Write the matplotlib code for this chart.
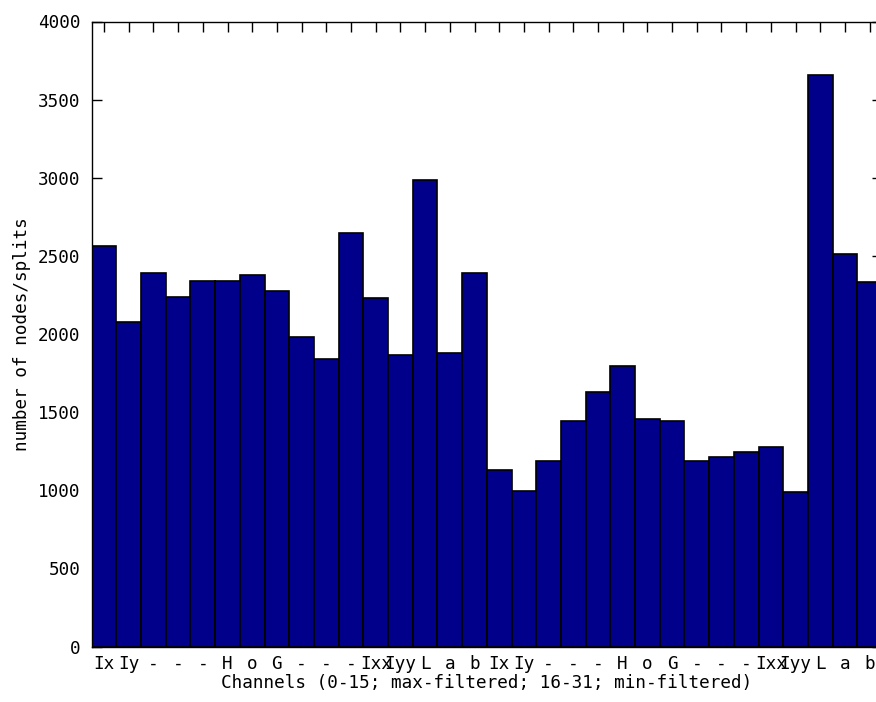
import matplotlib
matplotlib.use("Agg")
import matplotlib.pyplot as plt

# channel names, first half max-filtered, second half min-filtered
names = ["Ix", "Iy", "-", "-", "-", "H", "o", "G",
         "-", "-", "-", "Ixx", "Iyy", "L", "a", "b"]
channel_labels = names + names
channels = list(range(len(channel_labels)))

splits = [2565, 2075, 2390, 2239, 2341, 2341, 2378, 2275,
          1981, 1840, 2648, 2230, 1866, 2986, 1878, 2390,
          1130, 997, 1187, 1443, 1632, 1795, 1456, 1443,
          1187, 1211, 1245, 1279, 987, 3656, 2510, 2335]

y_ticks = list(range(0, 4001, 500))

plt.rcParams["font.family"] = "DejaVu Sans Mono"

W, H = 876, 702
fig = plt.figure(figsize=(W / 100.0, H / 100.0), dpi=100)
# plot area runs a little past the right edge of the canvas
ax = fig.add_axes([91.7 / W, (H - 646.5) / H, (882 - 91.7) / W, 625.0 / H])

ax.bar(channels, splits, width=1.0, color="#00008b",
       edgecolor="black", linewidth=1.2, zorder=2)

ax.set_xlim(-0.5, 31.5)
ax.set_ylim(0, 4000)

ax.set_xticks(channels)
ax.set_xticklabels(channel_labels)
ax.set_yticks(y_ticks)

ax.tick_params(axis="both", direction="in", length=7, width=1.0,
               labelsize=12.7, color="black")
ax.tick_params(axis="x", top=True, bottom=True, pad=6)
ax.tick_params(axis="y", left=True, right=True, pad=8)

for s in ax.spines.values():
    s.set_linewidth(1.0)
    s.set_color("black")

ax.set_xlabel("Channels (0-15; max-filtered; 16-31; min-filtered)",
              fontsize=12.7, labelpad=1)
ax.set_ylabel("number of nodes/splits", fontsize=12.7, labelpad=5)

fig.savefig("out.png", dpi=100)
